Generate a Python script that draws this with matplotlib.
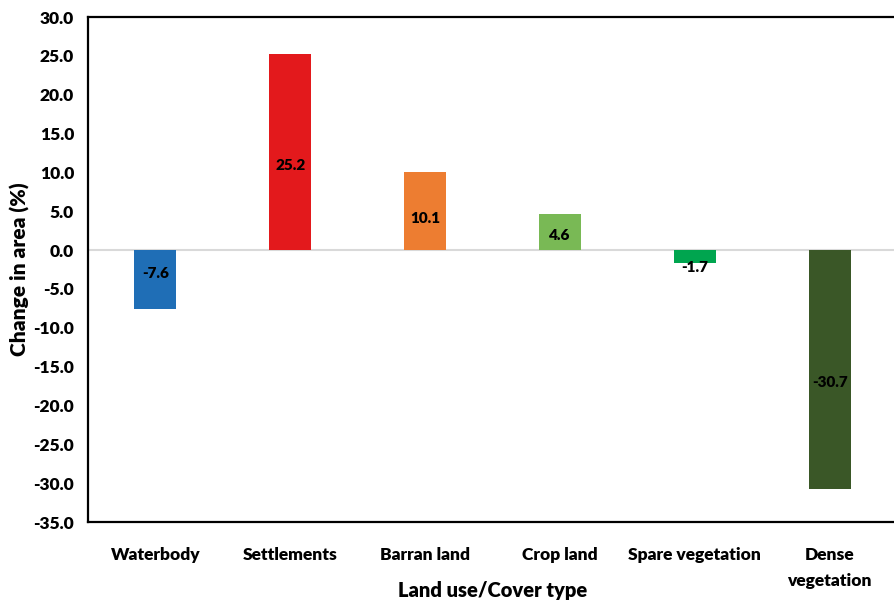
import matplotlib
matplotlib.use('Agg')
import matplotlib.pyplot as plt
import numpy as np

# Change in area per land use / cover class
classes = ['Waterbody', 'Settlements', 'Barran land', 'Crop land',
           'Spare vegetation', 'Dense\nvegetation']
change = [-7.6, 25.2, 10.1, 4.6, -1.7, -30.7]
colors = ['#1F6EB6', '#E3191C', '#ED7D31', '#79B955', '#00A54F', '#3A5727']

plt.rcParams['font.family'] = ['Lato', 'DejaVu Sans']
plt.rcParams['font.weight'] = 'heavy'

fig = plt.figure(figsize=(8.94, 6.03), dpi=100)
ax = fig.add_axes([0.0984, 0.1343, 0.905, 0.8375])

x = np.arange(len(classes))
ax.axhline(0, color='#D9D9D9', lw=1.5, zorder=1)
ax.bar(x, change, width=0.31, color=colors, zorder=2)

# value labels, nudged a bit like the original layout
lab_y = [-3.0, 10.9, 4.1, 1.9, -2.3, -17.0]
for xi, v, ly in zip(x, change, lab_y):
    ax.text(xi, ly, '%.1f' % v, ha='center', va='center',
            fontsize=11, fontweight='heavy', color='black', zorder=3)

ax.set_xlim(-0.5, 5.5)
ax.set_ylim(-35, 30)
ax.set_yticks(np.arange(-35, 31, 5))
ax.set_yticklabels(['%.1f' % t for t in np.arange(-35, 31, 5)])
ax.set_xticks(x)
ax.set_xticklabels(classes, linespacing=1.75)
ax.tick_params(axis='both', length=0, labelsize=12.5, pad=10)
ax.tick_params(axis='x', pad=18)

for s in ['left', 'bottom', 'top', 'right']:
    ax.spines[s].set_linewidth(1.6)
    ax.spines[s].set_color('black')

ax.set_ylabel('Change in area (%)', fontsize=15, fontweight='heavy', labelpad=2)
ax.set_xlabel('Land use/Cover type', fontsize=14.5, fontweight='heavy')
ax.xaxis.set_label_coords(0.5, -0.117)

fig.savefig('out.png', dpi=100)
